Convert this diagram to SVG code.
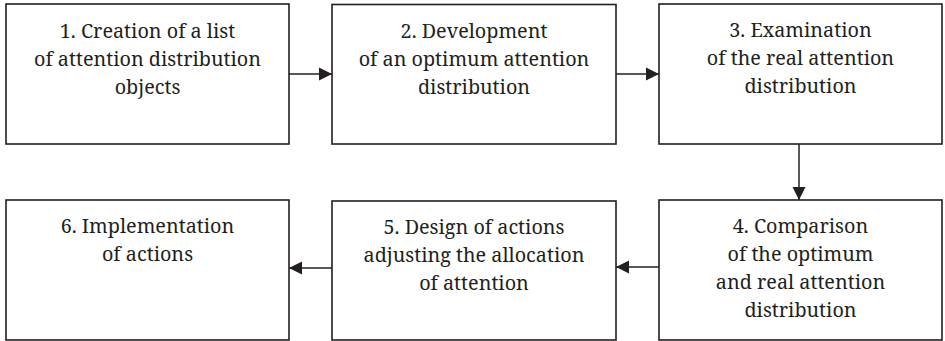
<svg xmlns="http://www.w3.org/2000/svg" width="945" height="341" viewBox="0 0 945 341">
<style>
.box{fill:#fff;stroke:#231f20;stroke-width:1.6}
.t{font-family:'Noto Serif','Liberation Serif','DejaVu Serif',Georgia,serif;font-size:19.8px;fill:#231f20;text-anchor:middle}
.c{fill:none;stroke:#231f20;stroke-width:1.5}
</style>
<defs>
<marker id="ah" markerUnits="userSpaceOnUse" markerWidth="14" markerHeight="14" refX="13" refY="7" orient="auto">
<path d="M0,0.5 L13,7 L0,13.5 Z" fill="#231f20"/>
</marker>
</defs>
<rect width="945" height="341" fill="#fff"/>
<g id="connectors">
<path class="c" d="M289,74 H332" marker-end="url(#ah)"/>
<path class="c" d="M616,74 H659" marker-end="url(#ah)"/>
<path class="c" d="M799,144 V200" marker-end="url(#ah)"/>
<path class="c" d="M659,267 H616" marker-end="url(#ah)"/>
<path class="c" d="M332,268 H289" marker-end="url(#ah)"/>
</g>
<g id="n1">
<rect class="box" x="6" y="4" width="283" height="140"/>
<text class="t" x="147.5" y="38">1. Creation of a list</text>
<text class="t" x="147.5" y="66">of attention distribution</text>
<text class="t" x="147.5" y="94">objects</text>
</g>
<g id="n2">
<rect class="box" x="332" y="4.5" width="284" height="139.5"/>
<text class="t" x="474" y="38">2. Development</text>
<text class="t" x="474" y="66">of an optimum attention</text>
<text class="t" x="474" y="94">distribution</text>
</g>
<g id="n3">
<rect class="box" x="659" y="4" width="283" height="140"/>
<text class="t" x="800.5" y="37">3. Examination</text>
<text class="t" x="800.5" y="65">of the real attention</text>
<text class="t" x="800.5" y="93">distribution</text>
</g>
<g id="n4">
<rect class="box" x="659" y="200" width="283" height="140"/>
<text class="t" x="800.5" y="233">4. Comparison</text>
<text class="t" x="800.5" y="261">of the optimum</text>
<text class="t" x="800.5" y="289">and real attention</text>
<text class="t" x="800.5" y="317">distribution</text>
</g>
<g id="n5">
<rect class="box" x="332" y="201" width="284" height="139"/>
<text class="t" x="474" y="234">5. Design of actions</text>
<text class="t" x="474" y="262">adjusting the allocation</text>
<text class="t" x="474" y="290">of attention</text>
</g>
<g id="n6">
<rect class="box" x="6" y="200" width="283" height="140"/>
<text class="t" x="147.5" y="233">6. Implementation</text>
<text class="t" x="147.5" y="261">of actions</text>
</g>
</svg>
